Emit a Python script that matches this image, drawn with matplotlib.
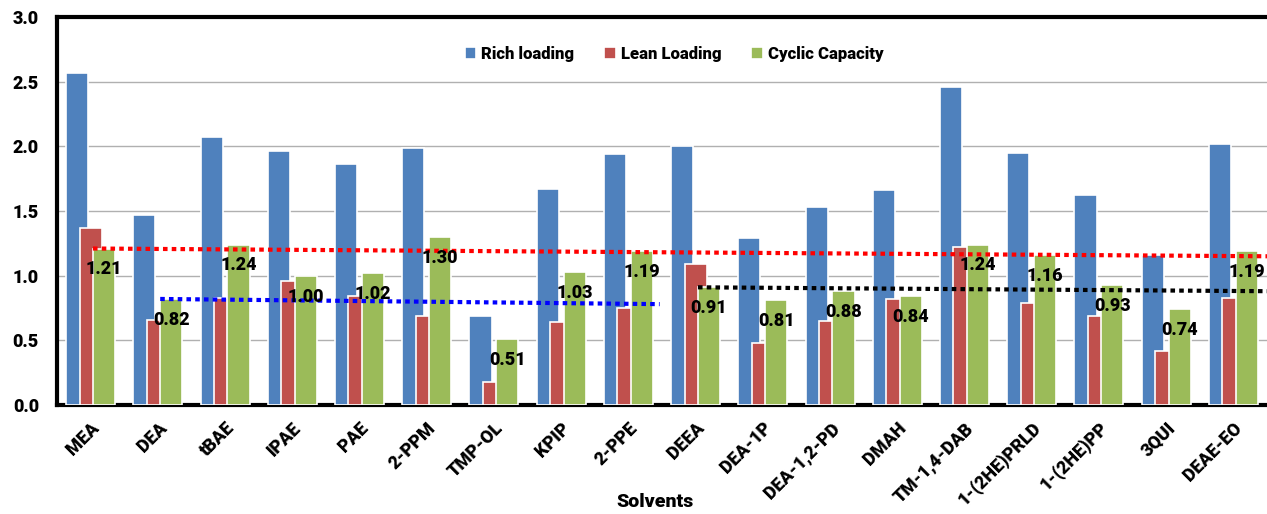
import numpy as np
import matplotlib
matplotlib.use("Agg")
import matplotlib.pyplot as plt

plt.rcParams['font.family'] = ['Roboto', 'DejaVu Sans']
plt.rcParams['font.weight'] = 'bold'

solvents = ["MEA", "DEA", "tBAE", "IPAE", "PAE", "2-PPM", "TMP-OL", "KPIP", "2-PPE",
            "DEEA", "DEA-1P", "DEA-1,2-PD", "DMAH", "TM-1,4-DAB", "1-(2HE)PRLD",
            "1-(2HE)PP", "3QUI", "DEAE-EO"]
rich = [2.57, 1.47, 2.07, 1.96, 1.86, 1.99, 0.69, 1.67, 1.94,
        2.00, 1.29, 1.53, 1.66, 2.46, 1.95, 1.62, 1.16, 2.02]
lean = [1.37, 0.66, 0.83, 0.96, 0.84, 0.69, 0.18, 0.64, 0.75,
        1.09, 0.48, 0.65, 0.82, 1.22, 0.79, 0.69, 0.42, 0.83]
cyclic = [1.21, 0.82, 1.24, 1.00, 1.02, 1.30, 0.51, 1.03, 1.19,
          0.91, 0.81, 0.88, 0.84, 1.24, 1.16, 0.93, 0.74, 1.19]

# benchmark reference lines: start at the benchmark's cyclic capacity
ref_from = ["MEA", "DEA", "DEEA"]
ref_to = ["DEAE-EO", "2-PPE", "DEAE-EO"]
ref_end = [1.15, 0.78, 0.88]
ref_colors = ["#ff0000", "#0000ff", "#000000"]

series = [("Rich loading", rich, "#4f81bd"),
          ("Lean Loading", lean, "#c0504d"),
          ("Cyclic Capacity", cyclic, "#9bbb59")]

fig = plt.figure(figsize=(12.67, 5.14), dpi=100)
ax = fig.add_axes([0.045, 0.212, 0.955, 0.755])

x = np.arange(len(solvents))
w = 0.33
offsets = [-0.2, 0.0, 0.2]
for (name, vals, col), off in zip(series, offsets):
    ax.bar(x + off, vals, w, color=col, edgecolor="white", linewidth=1.2,
           label=name, zorder=3)

# reference lines
for a, b, yend, col in zip(ref_from, ref_to, ref_end, ref_colors):
    i0 = solvents.index(a)
    i1 = solvents.index(b)
    x0 = i0 + offsets[2] - w / 2
    x1 = i1 + 0.5 if b == solvents[-1] else i1 + offsets[2] + w / 2 + 0.1
    ax.plot([x0, x1], [cyclic[i0], yend], color=col, lw=3,
            linestyle=(0, (1.1, 1.0)), dash_capstyle="butt", zorder=4)

# cyclic capacity value labels
for xi, v in zip(x, cyclic):
    ax.annotate(f"{v:.2f}", (xi + offsets[2], v), xytext=(0, -15),
                textcoords="offset points", ha="center", va="center",
                fontsize=13, fontweight="heavy", color="black", zorder=5)

ax.set_xlim(-0.5, len(solvents) - 0.5)
ax.set_ylim(0, 3.0)
ax.set_yticks(np.arange(0, 3.01, 0.5))
ax.set_yticklabels([f"{t:.1f}" for t in np.arange(0, 3.01, 0.5)])
ax.set_xticks(x)
ax.set_xticklabels(solvents, rotation=45, ha="right", rotation_mode="anchor")
ax.tick_params(axis="both", length=0, labelsize=13)
ax.tick_params(axis="y", pad=13)
ax.tick_params(axis="x", pad=10)
for lbl in ax.get_xticklabels() + ax.get_yticklabels():
    lbl.set_fontweight("heavy")

ax.yaxis.grid(True, color="#b0b0b0", lw=1, zorder=0)
ax.set_axisbelow(True)

ax.spines["right"].set_visible(False)
ax.spines["left"].set_linewidth(3)
ax.spines["top"].set_linewidth(3)
ax.spines["bottom"].set_linewidth(3)
ax.spines["bottom"].set_zorder(2)

ax.set_xlabel("Solvents", fontsize=14, fontweight="heavy", va="center")
ax.xaxis.set_label_coords(0.494, -0.25)

ax.legend(loc="center", bbox_to_anchor=(0.51, 0.905), ncol=3, frameon=False,
          handlelength=0.7, handleheight=0.7, handletextpad=0.3,
          columnspacing=1.8, prop={"weight": "heavy", "size": 12})

fig.savefig("out.png", dpi=100)
